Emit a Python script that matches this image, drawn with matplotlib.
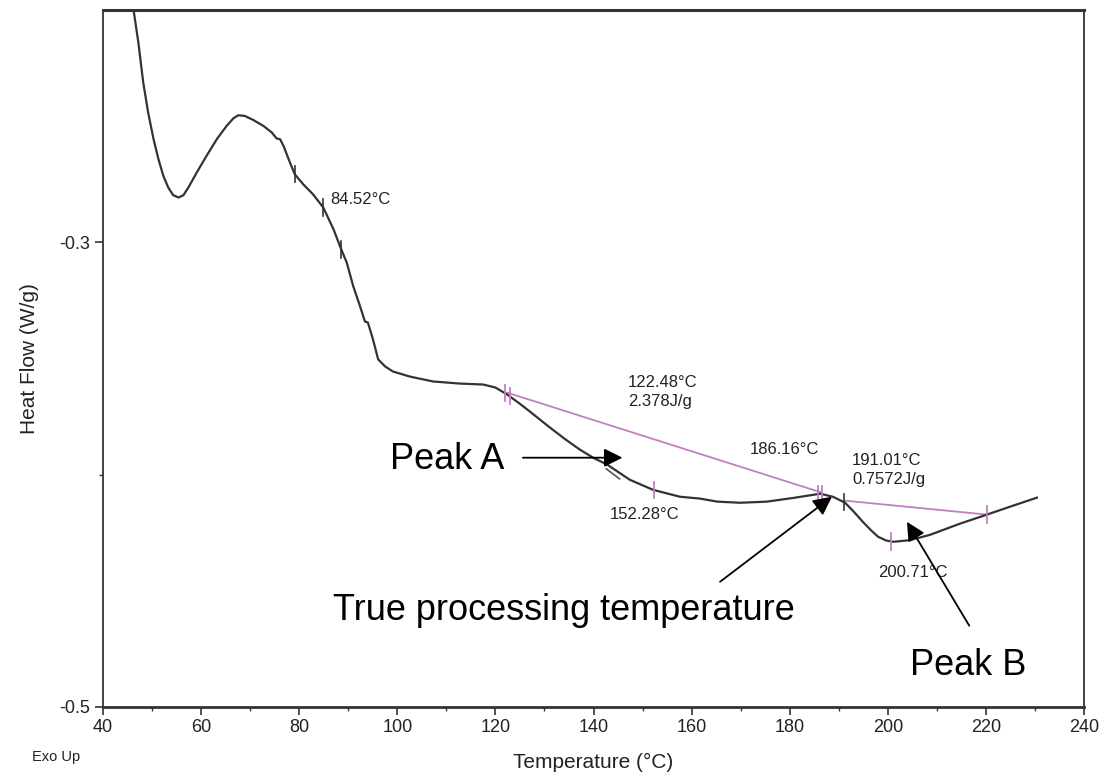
import numpy as np
import matplotlib
matplotlib.use("Agg")
import matplotlib.pyplot as plt

plt.rcParams['font.family'] = ['Liberation Sans', 'DejaVu Sans']

# DSC curve (temperature in °C, heat flow in W/g)
temp = [45.6, 46.2, 47.2, 48.2, 49.2, 50.3, 51.3, 52.3, 53.3, 54.3, 55.4, 56.4,
        57.4, 59.1, 61.1, 63.2, 65.2, 66.6, 67.6, 68.9, 70.6, 72.7, 74.4, 75.4,
        76.1, 76.8, 78.1, 79.1, 80.8, 82.8, 84.9, 87.0, 88.3, 89.7, 91.0, 92.4,
        93.4, 94.0, 95.0, 96.1, 97.5, 99.1, 102.6, 107.3, 112.8, 117.5, 120.0,
        122.4, 124.8, 127.0, 131.1, 134.2, 137.2, 140.0, 142.8, 147.4, 152.1,
        157.6, 161.7, 165.2, 169.9, 175.4, 181.1, 186.2, 188.8, 191.3, 193.0,
        194.9, 196.6, 198.0, 199.6, 201.1, 204.5, 208.6, 214.7, 220.2, 224.9,
        230.4]
heat = [-0.196, -0.1996, -0.2139, -0.2312, -0.2441, -0.2556, -0.2642, -0.2714,
        -0.2764, -0.2797, -0.2807, -0.2797, -0.2764, -0.27, -0.2628, -0.2556,
        -0.2499, -0.2466, -0.2453, -0.2456, -0.2473, -0.2499, -0.2527, -0.2553,
        -0.2556, -0.2585, -0.2656, -0.2707, -0.275, -0.2793, -0.285, -0.2944,
        -0.3016, -0.3088, -0.3188, -0.3275, -0.3341, -0.3345, -0.3415, -0.3504,
        -0.3534, -0.3556, -0.3578, -0.3599, -0.3608, -0.3612, -0.3625, -0.3655,
        -0.3692, -0.3728, -0.3797, -0.3847, -0.3892, -0.3928, -0.3957, -0.4022,
        -0.4065, -0.4095, -0.4103, -0.4116, -0.4121, -0.4116, -0.4099, -0.4082,
        -0.4095, -0.4121, -0.4158, -0.4203, -0.4240, -0.4267, -0.4283, -0.4289,
        -0.4282, -0.4259, -0.4211, -0.4172, -0.4138, -0.4099]

# integration baselines
base1_t = [122.4, 186.2]
base1_h = [-0.3647, -0.4075]
base2_t = [191.3, 220.2]
base2_h = [-0.4112, -0.4172]

# event marks on the curve
dark_marks = [79.1, 84.9, 88.6, 191.0]
pink_marks = [122.0, 122.9, 152.3, 185.8, 186.6, 200.7, 220.2]

# tangent stub near peak A
stub_t = [142.6, 145.3]
stub_h = [-0.3975, -0.4018]

# small result labels: (text, x, y)
result_labels = [("84.52°C", 86.3, -0.2815),
                 ("122.48°C\n2.378J/g", 147.0, -0.3645),
                 ("186.16°C", 171.9, -0.3892),
                 ("191.01°C\n0.7572J/g", 192.7, -0.3980),
                 ("152.28°C", 143.4, -0.4172),
                 ("200.71°C", 198.0, -0.4422)]

# large annotations: text, text position, arrow tail, arrow head
big_labels = [("Peak A", (98.5, -0.3935), (125.6, -0.3927), (145.9, -0.3927)),
              ("True processing temperature", (86.9, -0.4585), (165.8, -0.4461), (188.6, -0.4095)),
              ("Peak B", (204.5, -0.4823), (216.6, -0.4650), (203.9, -0.4203))]

x_ticks = [40, 60, 80, 100, 120, 140, 160, 180, 200, 220, 240]
x_minor = [50, 70, 90, 110, 130, 150, 170, 190, 210, 230]
y_ticks = [-0.5, -0.3]
y_minor = [-0.4]

fig = plt.figure(figsize=(11.1, 7.8), dpi=100)
ax = fig.add_axes([0.0928, 0.0936, 0.8838, 0.8936])

curve_col = '#333333'
pink = '#c27fc2'

ax.plot(temp, heat, color=curve_col, lw=1.6, zorder=3, solid_joinstyle='round')
ax.plot(base1_t, base1_h, color=pink, lw=1.3, zorder=2)
ax.plot(base2_t, base2_h, color=pink, lw=1.3, zorder=2)
ax.plot(stub_t, stub_h, color='#555555', lw=1.2, zorder=2)

dh = 0.0035
for t in dark_marks:
    h = np.interp(t, temp, heat)
    ax.plot([t, t], [h - dh, h + dh], color=curve_col, lw=1.2, zorder=4)
for t in pink_marks:
    h = np.interp(t, temp, heat)
    ax.plot([t, t], [h - dh, h + dh], color=pink, lw=1.3, zorder=4)

for txt, x, y in result_labels:
    ax.text(x, y, txt, fontsize=12, color='#222222', ha='left', va='center',
            linespacing=1.3, zorder=5)

for txt, (tx, ty), tail, head in big_labels:
    ax.text(tx, ty, txt, fontsize=26, color='black', ha='left', va='center', zorder=6)
    ax.annotate('', xy=head, xytext=tail,
                arrowprops=dict(arrowstyle='-|>', color='black', lw=1.3,
                                mutation_scale=28, shrinkA=0, shrinkB=0),
                zorder=6)

ax.set_xlim(40, 240)
ax.set_ylim(-0.5, -0.2)
ax.set_xticks(x_ticks)
ax.set_xticks(x_minor, minor=True)
ax.set_yticks(y_ticks)
ax.set_yticks(y_minor, minor=True)
ax.set_xticklabels([str(v) for v in x_ticks])
ax.set_yticklabels([f"{v:.1f}" for v in y_ticks])
ax.tick_params(axis='both', which='major', length=6, width=1.2, labelsize=13,
               colors='#333333', labelcolor='#222222', pad=3)
ax.tick_params(axis='both', which='minor', length=3, width=1.0, colors='#333333')
ax.tick_params(top=False, right=False)

for s in ax.spines.values():
    s.set_color('#333333')
    s.set_linewidth(1.3)
ax.spines['top'].set_linewidth(2.2)
ax.spines['bottom'].set_linewidth(2.0)

ax.set_xlabel("Temperature (°C)", fontsize=15, color='#222222', labelpad=12)
ax.set_ylabel("Heat Flow (W/g)", fontsize=15, color='#222222', labelpad=15)
fig.text(32 / 1110, 1 - 757 / 780, "Exo Up", fontsize=10.5, color='#222222',
         ha='left', va='center')

fig.savefig("out.png", dpi=100)
